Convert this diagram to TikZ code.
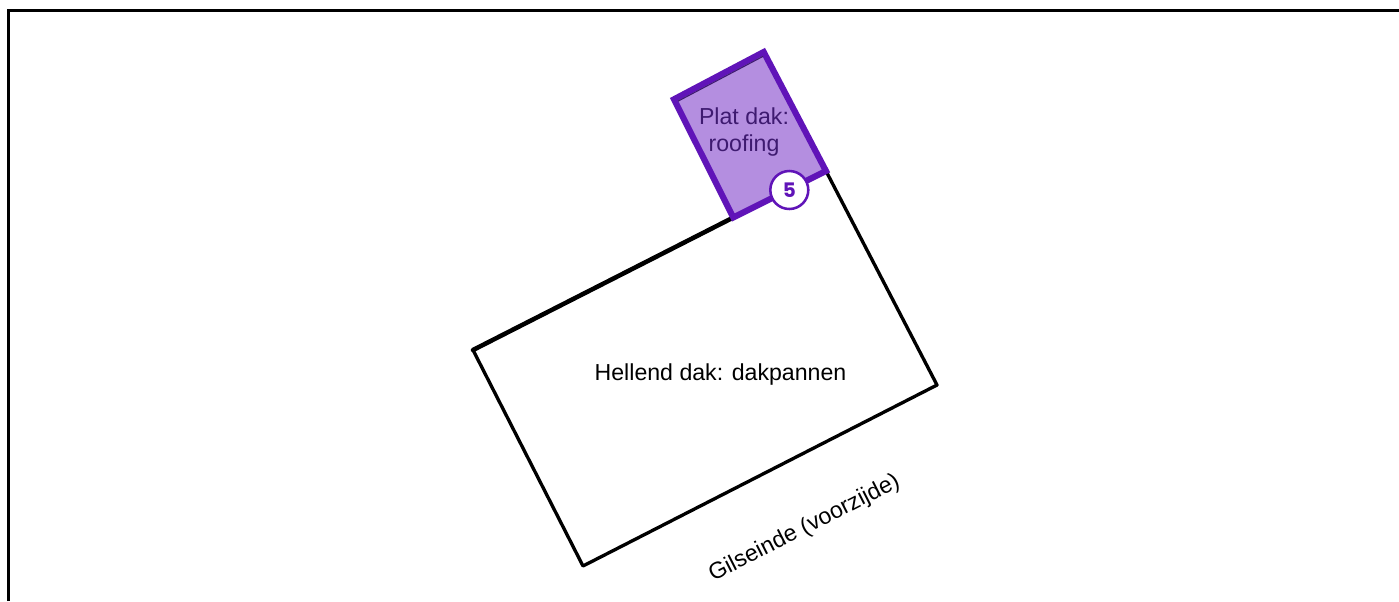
\documentclass[tikz,border=0pt]{standalone}
\usepackage{fontspec}
\setmainfont{Liberation Sans}
\newfontfamily\badgefont{Poppins}
\definecolor{rpurple}{HTML}{6014B8}
\definecolor{rfill}{HTML}{B48EE0}
\definecolor{rtext}{HTML}{3E1A70}
\definecolor{rinner}{HTML}{3E1A70}
\begin{document}
\begin{tikzpicture}[x=0.75pt,y=-0.75pt,
  wall/.style={draw=black,line width=2.5pt,line join=round},
  thickwall/.style={draw=black,line width=3.4pt,line cap=round},
  lab/.style={font=\fontsize{17.35}{19.6}\selectfont,text=black,align=center,inner sep=0pt},
  badge/.style={circle,draw=rpurple,fill=white,line width=1.9pt,minimum size=28.5pt,inner sep=0pt,text=rpurple,font=\badgefont\fontsize{15}{16}\selectfont\bfseries}]
\useasboundingbox (0,0) rectangle (1399,601);
\fill[white] (0,0) rectangle (1399,601);
\coordinate (fa) at (8.7,601);
\coordinate (fb) at (8.7,10.8);
\coordinate (fc) at (1399,10.8);
\draw[black,line width=2.5pt] (fa) -- (fb) -- (fc);
\coordinate (nw) at (473,350);
\coordinate (sw) at (583,566);
\coordinate (se) at (937,385);
\coordinate (ne) at (826,171);
\coordinate (pa) at (733.3,217.5);
\coordinate (pb) at (674,99.3);
\coordinate (pc) at (763.7,52);
\draw[wall] (pa) -- (nw) -- (sw) -- (se) -- (ne);
\draw[thickwall] (pa) -- (nw);
\draw[draw=rpurple,fill=rfill,line width=4.6pt,line join=miter] (pa) -- (pb) -- (pc) -- (ne) -- cycle;
\coordinate (ia) at (678,101.2);
\coordinate (ib) at (763,56.4);
\draw[rinner,line width=0.8pt] (ia) -- (ib);
\node[badge] (five) at (789.3,190) {\raisebox{-0.5pt}{5}};
\node[lab,text=rtext] (plat) at (744,132) {Plat dak:\\roofing};
\node[lab] (hellend) at (720.5,374.5) {Hellend dak: dakpannen};
\node[lab,rotate=27] (gils) at (804.5,528.5) {Gilseinde (voorzijde)};
\end{tikzpicture}
\end{document}
